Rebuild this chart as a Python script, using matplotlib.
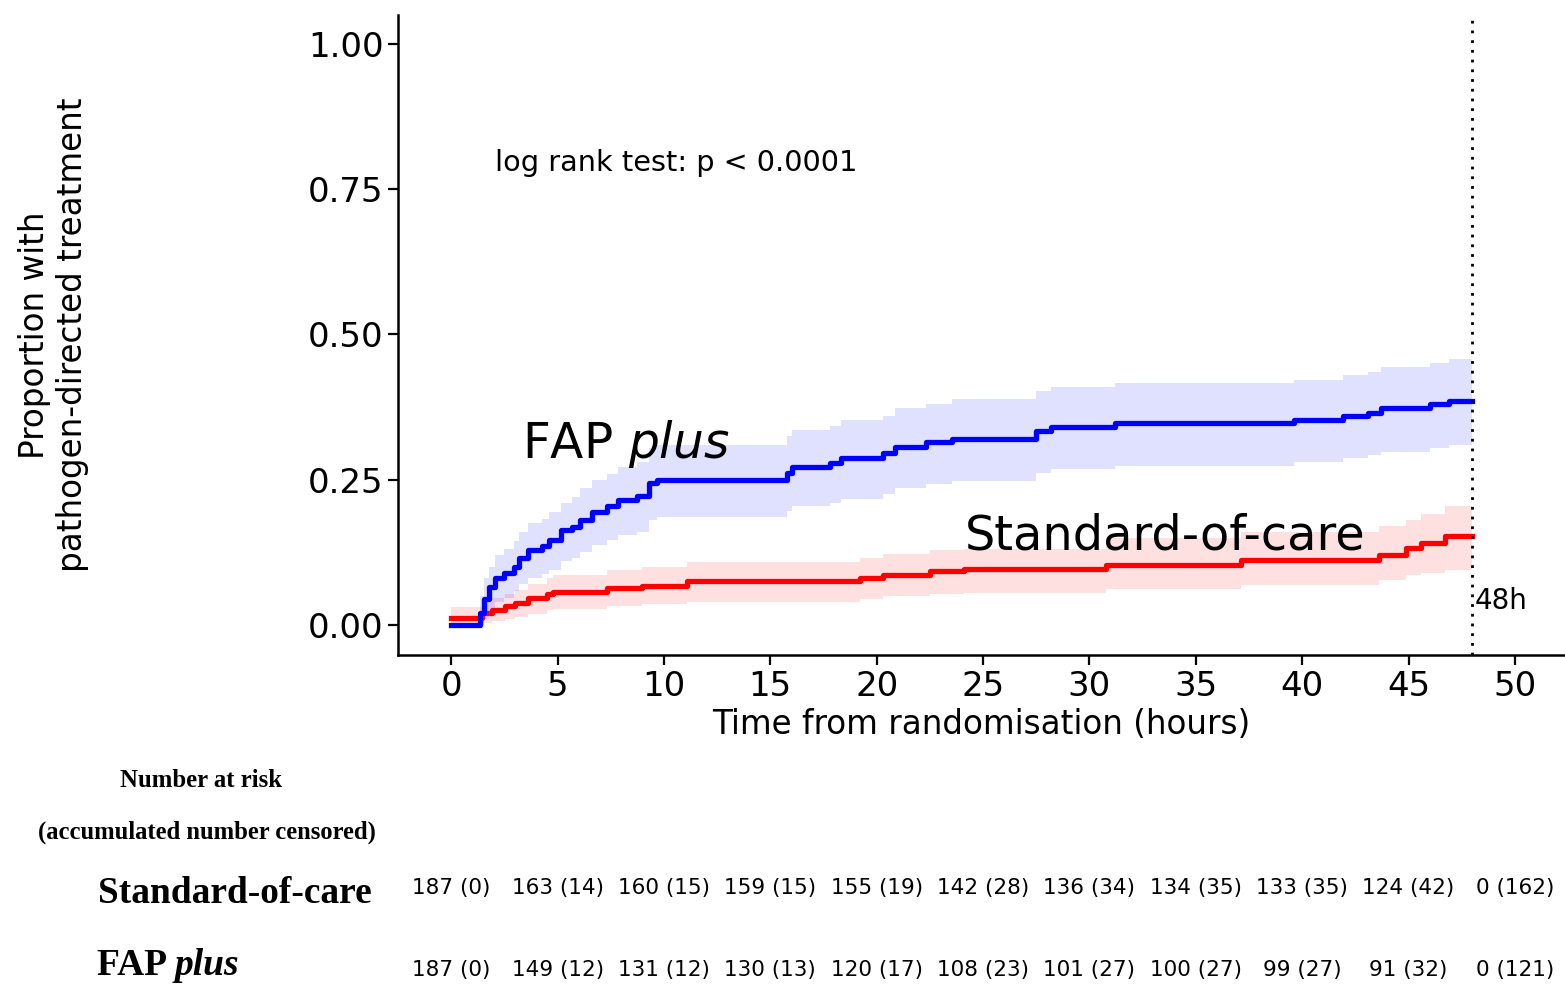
import matplotlib
matplotlib.use("Agg")
import matplotlib.pyplot as plt
import matplotlib.transforms as mtransforms
import numpy as np

# --- data ---
# FAP plus (blue): step start times, cumulative proportion, CI bounds
fap_t = [0, 1.35, 1.55, 1.8, 2.05, 2.5, 2.95, 3.2, 3.6, 4.25, 4.6, 5.15, 5.7, 6.05, 6.6,
         7.3, 7.85, 8.75, 9.3, 9.65, 15.8, 16.0, 17.8, 18.3, 20.3, 20.85, 22.3, 23.55,
         27.5, 28.2, 31.2, 39.6, 41.9, 43.1, 43.7, 46.0, 46.9]
fap_p = [0, 0.02, 0.045, 0.065, 0.08, 0.09, 0.10, 0.115, 0.129, 0.135, 0.146, 0.163, 0.169,
         0.181, 0.195, 0.204, 0.215, 0.221, 0.244, 0.25, 0.262, 0.272, 0.279, 0.287, 0.295,
         0.307, 0.314, 0.32, 0.333, 0.34, 0.347, 0.353, 0.36, 0.365, 0.373, 0.38, 0.386]
fap_lo = [0, 0.0, 0.01, 0.025, 0.04, 0.047, 0.058, 0.07, 0.08, 0.087, 0.095, 0.11, 0.115,
          0.125, 0.138, 0.146, 0.155, 0.16, 0.18, 0.185, 0.196, 0.205, 0.21, 0.217, 0.225,
          0.236, 0.242, 0.248, 0.262, 0.268, 0.274, 0.28, 0.287, 0.292, 0.298, 0.305, 0.31]
fap_hi = [0, 0.05, 0.08, 0.10, 0.12, 0.13, 0.145, 0.16, 0.175, 0.183, 0.195, 0.21, 0.22,
          0.235, 0.25, 0.26, 0.272, 0.28, 0.305, 0.31, 0.325, 0.335, 0.343, 0.352, 0.36,
          0.373, 0.38, 0.388, 0.402, 0.41, 0.416, 0.422, 0.43, 0.436, 0.444, 0.45, 0.457]

# Standard-of-care (red)
soc_t = [0, 1.45, 1.9, 2.55, 3.0, 3.6, 4.5, 4.8, 7.3, 8.95, 11.1, 19.2, 20.3, 22.5, 24.1,
         30.8, 37.1, 43.6, 44.9, 45.6, 46.7]
soc_p = [0.011, 0.02, 0.026, 0.032, 0.037, 0.046, 0.053, 0.057, 0.063, 0.067, 0.075, 0.080,
         0.086, 0.092, 0.096, 0.103, 0.111, 0.120, 0.132, 0.141, 0.153]
soc_lo = [0.0, 0.003, 0.007, 0.01, 0.013, 0.019, 0.025, 0.028, 0.032, 0.035, 0.04, 0.044,
          0.049, 0.053, 0.055, 0.062, 0.068, 0.077, 0.085, 0.09, 0.095]
soc_hi = [0.03, 0.04, 0.047, 0.053, 0.06, 0.07, 0.08, 0.086, 0.094, 0.099, 0.108, 0.115,
          0.122, 0.128, 0.13, 0.15, 0.16, 0.17, 0.18, 0.19, 0.205]

t_end = 48.0

risk_times = [0, 5, 10, 15, 20, 25, 30, 35, 40, 45, 50]
soc_risk = ["187 (0)", "163 (14)", "160 (15)", "159 (15)", "155 (19)", "142 (28)",
            "136 (34)", "134 (35)", "133 (35)", "124 (42)", "0 (162)"]
fap_risk = ["187 (0)", "149 (12)", "131 (12)", "130 (13)", "120 (17)", "108 (23)",
            "101 (27)", "100 (27)", "99 (27)", "91 (32)", "0 (121)"]


def extend(t, *cols):
    # add the closing point at 48h so the last step is drawn
    return [list(t) + [t_end]] + [list(c) + [c[-1]] for c in cols]


fig = plt.figure(figsize=(15.65, 9.88), dpi=100)
ax = fig.add_axes([398 / 1565, 1 - 655 / 988, 1 - 398 / 1565, (655 - 15) / 988])

for t, p, lo, hi, col in [(soc_t, soc_p, soc_lo, soc_hi, "#ff0000"),
                          (fap_t, fap_p, fap_lo, fap_hi, "#0000ff")]:
    tt, pp, ll, hh = extend(t, p, lo, hi)
    ax.fill_between(tt, ll, hh, step="post", color=col, alpha=0.12, linewidth=0)
    ax.step(tt, pp, where="post", color=col, linewidth=3.8)

ax.axvline(48, color="black", linestyle=(0, (1, 2.5)), linewidth=2)

ax.set_xlim(-2.5, 52.35)
ax.set_ylim(-0.052, 1.05)
ax.set_xticks(risk_times)
ax.set_yticks([0, 0.25, 0.5, 0.75, 1.0])
ax.set_yticklabels(["0.00", "0.25", "0.50", "0.75", "1.00"])
ax.tick_params(labelsize=24.5, length=7, width=1.6, direction="out")
for side in ["top", "right"]:
    ax.spines[side].set_visible(False)
for side in ["left", "bottom"]:
    ax.spines[side].set_linewidth(1.8)

ax.set_xlabel("Time from randomisation (hours)", fontsize=23.5)
ax.xaxis.set_label_coords(0.5, -0.083)
ax.set_ylabel("Proportion with\npathogen-directed treatment", fontsize=23.5)
ax.yaxis.set_label_coords(-0.265, 0.5)

ax.text(2.07, 0.781, "log rank test: p < 0.0001", fontsize=20.7, va="baseline")
ax.text(3.34, 0.2875, r"FAP $\it{plus}$", fontsize=35, va="baseline")
ax.text(24.15, 0.129, "Standard-of-care", fontsize=34.5, va="baseline")
ax.text(48.1, 0.0275, "48h", fontsize=20, va="baseline")

# number-at-risk table
trans = mtransforms.blended_transform_factory(ax.transData, fig.transFigure)
for x, s1, s2 in zip(risk_times, soc_risk, fap_risk):
    ax.text(x, 1 - 888 / 988, s1, transform=trans, ha="center", va="center",
            fontsize=15.5, clip_on=False)
    ax.text(x, 1 - 970 / 988, s2, transform=trans, ha="center", va="center",
            fontsize=15.5, clip_on=False)

serif = "Liberation Serif"
fig.text(201 / 1565, 1 - 780 / 988, "Number at risk", family=serif, weight="bold",
         fontsize=17.8, ha="center", va="center")
fig.text(207 / 1565, 1 - 832 / 988, "(accumulated number censored)", family=serif,
         weight="bold", fontsize=17.7, ha="center", va="center")
fig.text(98 / 1565, 1 - 893 / 988, "Standard-of-care", family=serif, weight="bold",
         fontsize=26.9, ha="left", va="center")
fap_lab = fig.text(97 / 1565, 1 - 965 / 988, "FAP ", family=serif, weight="bold",
                   fontsize=27, ha="left", va="center")
fig.canvas.draw()
bb = fap_lab.get_window_extent().transformed(fig.transFigure.inverted())
fig.text(bb.x1, 1 - 965 / 988, "plus", family=serif, weight="bold", style="italic",
         fontsize=27, ha="left", va="center")

fig.savefig("out.png", dpi=100)
